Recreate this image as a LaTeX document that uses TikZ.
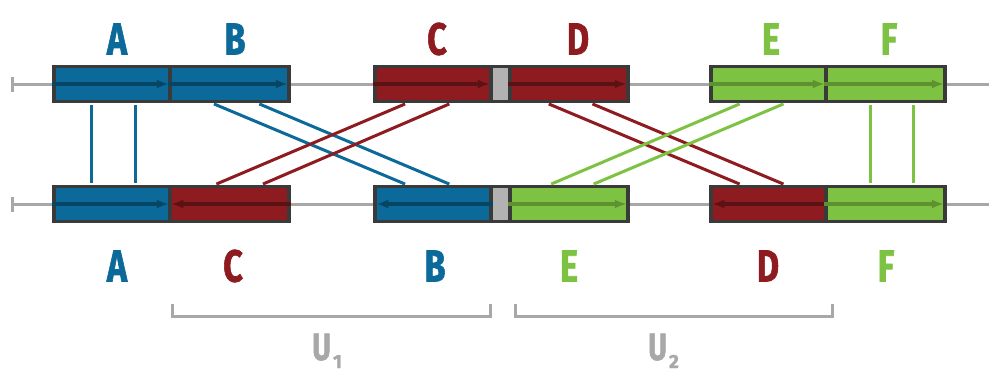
\documentclass[tikz,border=0pt]{standalone}
\usepackage{fontspec}
\setmainfont{Fira Sans}
\newfontfamily\lblfont{Fira Sans}[BoldFeatures={FakeBold=1.6}]
\usepackage{tikz}
\usetikzlibrary{arrows.meta,calc,positioning}
\definecolor{seqblue}{HTML}{0B6A9A}
\definecolor{seqred}{HTML}{8E1B1F}
\definecolor{seqgreen}{HTML}{7DC242}
\definecolor{segline}{HTML}{3A3A3A}
\definecolor{railgrey}{HTML}{A8A8A8}
\definecolor{gapgrey}{HTML}{B2B2B2}
% one block of the sequence: name, left, right, y, colour
\newcommand{\seg}[5]{\node[seg,fill=#5,minimum width={#3-#2}] (#1) at ({(#2+#3)/2},#4) {};}
% two parallel links from one block to another
\newcommand{\link}[5]{%
	\draw[conn,#5] ($(#1.south west)!#2!(#1.south east)$) -- ($(#4.north west)!#2!(#4.north east)$);
	\draw[conn,#5] ($(#1.south west)!#3!(#1.south east)$) -- ($(#4.north west)!#3!(#4.north east)$);}
\newcommand{\lettr}[1]{\scalebox{0.76}[1]{#1}}

\begin{document}
\begin{tikzpicture}[x=1pt,y=-1pt,
		seg/.style={draw=segline,line width=3.5pt,minimum height=35pt,inner sep=0pt},
		rail/.style={draw=railgrey,line width=3pt},
		dir/.style={line width=3.2pt,-{Latex[length=12pt,width=9pt]},shorten >=3pt},
		conn/.style={line width=3pt,shorten <=1.75pt,shorten >=1.75pt},
		lbl/.style={inner sep=0pt,font=\lblfont\fontsize{45}{45}\selectfont\bfseries},
		ulbl/.style={inner sep=0pt,anchor=base west,text=railgrey,font=\lblfont\fontsize{38}{38}\selectfont\bfseries}]
		\useasboundingbox (0,0) rectangle (989,372);
		% rails
		\draw[rail] (12,77) -- (12,92);
		\draw[rail] (12,84) -- (989,84);
		\draw[rail] (12,197) -- (12,212);
		\draw[rail] (12,204) -- (989,204);
		% top row
		\seg{tA}{54}{170}{84}{seqblue}
		\seg{tB}{170}{289}{84}{seqblue}
		\seg{tC}{375}{491}{84}{seqred}
		\seg{tG}{491}{510}{84}{gapgrey}
		\seg{tD}{510}{628}{84}{seqred}
		\seg{tE}{711}{826}{84}{seqgreen}
		\seg{tF}{826}{945}{84}{seqgreen}
		% bottom row
		\seg{bA}{54}{170}{204}{seqblue}
		\seg{bC}{170}{289}{204}{seqred}
		\seg{bB}{375}{491}{204}{seqblue}
		\seg{bG}{491}{510}{204}{gapgrey}
		\seg{bE}{510}{628}{204}{seqgreen}
		\seg{bD}{711}{826}{204}{seqred}
		\seg{bF}{826}{945}{204}{seqgreen}
		% orientation inside the blocks
		\draw[dir,seqblue!65!black] (tA.west) -- (tA.east);
		\draw[dir,seqblue!65!black] (tB.west) -- (tB.east);
		\draw[dir,seqred!65!black] (tC.west) -- (tC.east);
		\draw[dir,seqred!65!black] (tD.west) -- (tD.east);
		\draw[dir,seqgreen!75!black] (tE.west) -- (tE.east);
		\draw[dir,seqgreen!75!black] (tF.west) -- (tF.east);
		\draw[dir,seqblue!65!black] (bA.west) -- (bA.east);
		\draw[dir,seqred!65!black] (bC.east) -- (bC.west);
		\draw[dir,seqblue!65!black] (bB.east) -- (bB.west);
		\draw[dir,seqgreen!75!black] (bE.west) -- (bE.east);
		\draw[dir,seqred!65!black] (bD.east) -- (bD.west);
		\draw[dir,seqgreen!75!black] (bF.west) -- (bF.east);
		% links
		\link{tA}{0.33}{0.7}{bA}{seqblue}
		\draw[conn,seqblue] ($(tB.south west)!0.36!(tB.south east)$) -- ($(bB.north west)!0.28!(bB.north east)$);
		\draw[conn,seqblue] ($(tB.south west)!0.73!(tB.south east)$) -- ($(bB.north west)!0.65!(bB.north east)$);
		\draw[conn,seqred] ($(tC.south west)!0.28!(tC.south east)$) -- ($(bC.north west)!0.38!(bC.north east)$);
		\draw[conn,seqred] ($(tC.south west)!0.65!(tC.south east)$) -- ($(bC.north west)!0.76!(bC.north east)$);
		\draw[conn,seqred] ($(tD.south west)!0.32!(tD.south east)$) -- ($(bD.north west)!0.27!(bD.north east)$);
		\draw[conn,seqred] ($(tD.south west)!0.68!(tD.south east)$) -- ($(bD.north west)!0.64!(bD.north east)$);
		\draw[conn,seqgreen] ($(tE.south west)!0.27!(tE.south east)$) -- ($(bE.north west)!0.34!(bE.north east)$);
		\draw[conn,seqgreen] ($(tE.south west)!0.64!(tE.south east)$) -- ($(bE.north west)!0.69!(bE.north east)$);
		\link{tF}{0.38}{0.73}{bF}{seqgreen}
		% names
		\node[lbl,text=seqblue] (nAt) at (117,39) {\lettr{A}};
		\node[lbl,text=seqblue] (nBt) at (235,39) {\lettr{B}};
		\node[lbl,text=seqred] (nCt) at (437,39) {\lettr{C}};
		\node[lbl,text=seqred] (nDt) at (578,39) {\lettr{D}};
		\node[lbl,text=seqgreen] (nEt) at (771,39) {\lettr{E}};
		\node[lbl,text=seqgreen] (nFt) at (889,39) {\lettr{F}};
		\node[lbl,text=seqblue] (nAb) at (117,266) {\lettr{A}};
		\node[lbl,text=seqred] (nCb) at (233,266) {\lettr{C}};
		\node[lbl,text=seqblue] (nBb) at (435,266) {\lettr{B}};
		\node[lbl,text=seqgreen] (nEb) at (569,266) {\lettr{E}};
		\node[lbl,text=seqred] (nDb) at (768,266) {\lettr{D}};
		\node[lbl,text=seqgreen] (nFb) at (886,266) {\lettr{F}};
		% units
		\draw[rail] (172,304) -- (172,316) -- (490,316) -- (490,304);
		\draw[rail] (515,304) -- (515,316) -- (832,316) -- (832,304);
		\node[ulbl] (u1) at (312,360) {\lettr{U}\hspace{2pt}\raisebox{-8pt}{\fontsize{19}{19}\selectfont 1}};
		\node[ulbl] (u2) at (648,360) {\lettr{U}\hspace{2pt}\raisebox{-8pt}{\fontsize{19}{19}\selectfont 2}};
	\end{tikzpicture}
\end{document}
